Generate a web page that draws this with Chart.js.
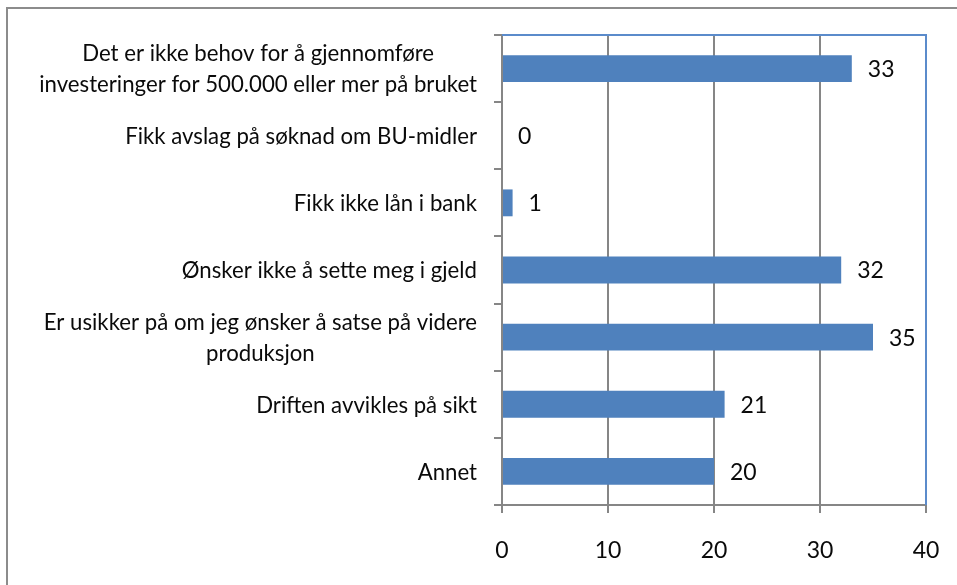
<!DOCTYPE html>
<html><head><meta charset="utf-8">
<script src="https://cdn.jsdelivr.net/npm/chart.js@4.4.0/dist/chart.umd.min.js"></script>
<style>
html,body{margin:0;padding:0;background:#fff;}
#wrap{position:relative;width:957px;height:585px;overflow:hidden;background:#fff;}
#frame{position:absolute;left:6px;top:7px;width:1000px;height:700px;border-top:2px solid #8c8c8c;border-left:2px solid #8c8c8c;pointer-events:none;}
canvas{position:absolute;left:0;top:0;}
</style></head><body>
<div id="wrap"><canvas id="c" width="957" height="585"></canvas><div id="frame"></div></div>
<script>
const categories = [
  ["Det er ikke behov for å gjennomføre", "investeringer for 500.000 eller mer på bruket"],
  "Fikk avslag på søknad om BU-midler",
  "Fikk ikke lån i bank",
  "Ønsker ikke å sette meg i gjeld",
  ["Er usikker på om jeg ønsker å satse på videre", "produksjon"],
  "Driften avvikles på sikt",
  "Annet"
];
const values = [33, 0, 1, 32, 35, 21, 20];
const xTicks = [0, 10, 20, 30, 40];

const FONT = 'Lato';
const catLabelPlugin = {
  id: 'catLabels',
  afterDraw(chart) {
    const ctx = chart.ctx, ys = chart.scales.y;
    const fontSize = 23, lineH = 31, squeeze = 0.965, gap = 25;
    ctx.save();
    ctx.font = fontSize + 'px ' + FONT;
    ctx.fillStyle = '#0a0a0a';
    ctx.textBaseline = 'middle';
    ctx.textAlign = 'center';
    categories.forEach((lab, i) => {
      const lines = Array.isArray(lab) ? lab : [lab];
      const y0 = ys.getPixelForValue(i);
      const w = Math.max(...lines.map(l => ctx.measureText(l).width)) * squeeze;
      const cx = ys.right - gap - w / 2;
      lines.forEach((l, k) => {
        const y = y0 + (k - (lines.length - 1) / 2) * lineH + 1;
        ctx.save(); ctx.translate(cx, y); ctx.scale(squeeze, 1); ctx.fillText(l, 0, 0); ctx.restore();
      });
    });
    ctx.restore();
  }
};
const valueLabelPlugin = {
  id: 'valueLabels',
  afterDatasetsDraw(chart) {
    const ctx = chart.ctx;
    const meta = chart.getDatasetMeta(0);
    ctx.save();
    ctx.font = '23px ' + FONT;
    ctx.fillStyle = '#0a0a0a';
    ctx.textBaseline = 'middle';
    ctx.textAlign = 'left';
    meta.data.forEach((bar, i) => {
      ctx.fillText(String(values[i]), bar.x + 16, bar.y + 1);
    });
    ctx.restore();
  }
};
const plotBorderPlugin = {
  id: 'plotBorder',
  afterDraw(chart) {
    const ctx = chart.ctx, a = chart.chartArea;
    ctx.save();
    ctx.strokeStyle = '#5B8BCB';
    ctx.lineWidth = 2;
    ctx.beginPath();
    ctx.moveTo(a.left, a.top);
    ctx.lineTo(a.right, a.top);
    ctx.lineTo(a.right, a.bottom);
    ctx.stroke();
    ctx.restore();
  }
};

new Chart(document.getElementById('c'), {
  type: 'bar',
  data: {
    labels: categories,
    datasets: [{
      data: values,
      backgroundColor: '#4F81BD',
      borderWidth: 0,
      barPercentage: 0.4,
      categoryPercentage: 1
    }]
  },
  options: {
    indexAxis: 'y',
    responsive: false,
    animation: false,
    layout: { padding: { top: 35, right: 31, left: 0, bottom: 0 } },
    plugins: { legend: { display: false }, tooltip: { enabled: false } },
    scales: {
      x: {
        min: xTicks[0], max: xTicks[xTicks.length - 1],
        afterBuildTicks(s) { s.ticks = xTicks.map(v => ({ value: v })); },
        ticks: { font: { family: FONT, size: 23 }, color: '#0a0a0a', padding: 24 },
        grid: { color: '#868686', lineWidth: 2, tickLength: 8, drawTicks: true },
        border: { color: '#868686', width: 2 },
        afterFit(s) { s.height = 80; s.paddingRight = 0; s.paddingLeft = 0; }
      },
      y: {
        ticks: { display: false },
        grid: { drawOnChartArea: false, offset: true, tickLength: 8, color: '#868686', lineWidth: 2 },
        border: { color: '#868686', width: 2 },
        afterFit(s) { s.width = 502; }
      }
    }
  },
  plugins: [catLabelPlugin, valueLabelPlugin, plotBorderPlugin]
});
</script>
</body></html>
